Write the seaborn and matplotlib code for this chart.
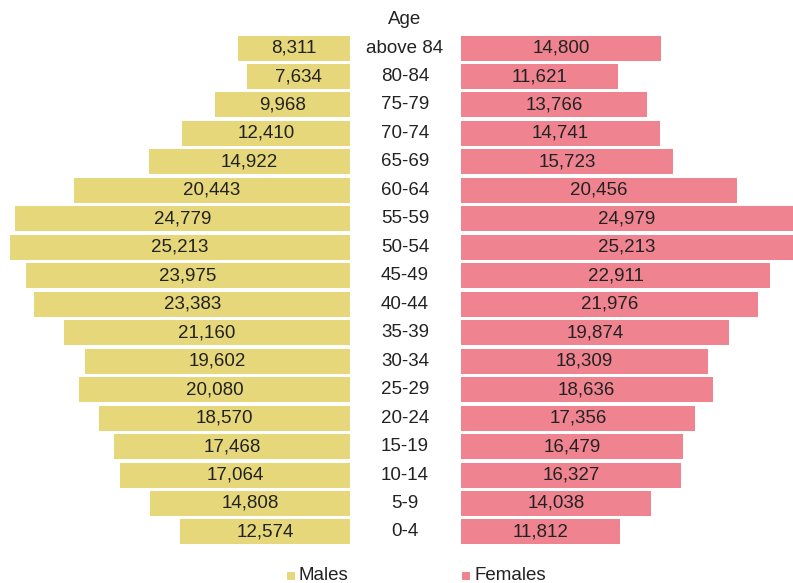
import matplotlib
matplotlib.use("Agg")
import matplotlib.pyplot as plt
import seaborn as sns
import pandas as pd
from matplotlib.patches import Rectangle

ages = ["above 84", "80-84", "75-79", "70-74", "65-69", "60-64", "55-59", "50-54",
        "45-49", "40-44", "35-39", "30-34", "25-29", "20-24", "15-19", "10-14", "5-9", "0-4"]
males = [8311, 7634, 9968, 12410, 14922, 20443, 24779, 25213, 23975, 23383,
         21160, 19602, 20080, 18570, 17468, 17064, 14808, 12574]
females = [14800, 11621, 13766, 14741, 15723, 20456, 24979, 25213, 22911, 21976,
           19874, 18309, 18636, 17356, 16479, 16327, 14038, 11812]

male_color = "#E6D77A"
female_color = "#F08390"
text_color = "#222222"

sns.set_theme(style="white")
plt.rcParams['font.family'] = ['Liberation Sans', 'DejaVu Sans']

df = pd.DataFrame({"age": ages, "Males": males, "Females": females})

W, H = 793, 583
fig = plt.figure(figsize=(W / 100, H / 100), dpi=100)

scale = 0.0135  # px per unit
top_px, bot_px = 33.8, 546.2
axb = 1 - bot_px / H
axh = (bot_px - top_px) / H

axL = fig.add_axes([0, axb, 350 / W, axh])
axR = fig.add_axes([461 / W, axb, (W - 461) / W, axh])

sns.barplot(data=df, y="age", x="Males", orient="h", color=male_color,
            width=0.88, saturation=1, ax=axL, order=ages)
sns.barplot(data=df, y="age", x="Females", orient="h", color=female_color,
            width=0.88, saturation=1, ax=axR, order=ages)

xmaxL = 350 / scale
xmaxR = (W - 461) / scale
axL.set_xlim(xmaxL, 0)
axR.set_xlim(0, xmaxR)

for ax in (axL, axR):
    ax.set_ylim(len(ages) - 0.5, -0.5)
    ax.axis("off")
    for p in ax.patches:
        p.set_linewidth(0)

fs = 13.5
for i, (m, f) in enumerate(zip(males, females)):
    axL.text(min(m, xmaxL) / 2, i, f"{m:,}", ha="center", va="center",
             fontsize=fs, color=text_color)
    axR.text(min(f, xmaxR) / 2, i, f"{f:,}", ha="center", va="center",
             fontsize=fs, color=text_color)

# center age labels
row_h = (bot_px - top_px) / len(ages)
for i, a in enumerate(ages):
    y_px = top_px + row_h * (i + 0.5)
    fig.text(405 / W, 1 - y_px / H, a, ha="center", va="center",
             fontsize=fs, color=text_color)
fig.text(405 / W, 1 - 20 / H, "Age", ha="center", va="center",
         fontsize=fs, color=text_color)

# legend
ly = 576
for x0, lab, col in [(287, "Males", male_color), (462, "Females", female_color)]:
    fig.patches.append(Rectangle((x0 / W, 1 - (ly + 4) / H), 8 / W, 8 / H,
                                 transform=fig.transFigure, color=col, lw=0))
    fig.text((x0 + 12) / W, 1 - ly / H, lab, ha="left", va="center",
             fontsize=fs, color=text_color)

fig.savefig("out.png", dpi=100, facecolor="white")
